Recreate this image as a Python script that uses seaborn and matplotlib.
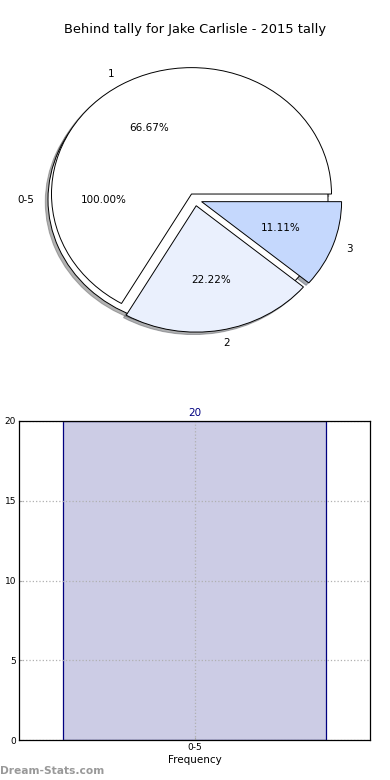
import numpy as np
import pandas as pd
import matplotlib
matplotlib.use("Agg")
import matplotlib.pyplot as plt
import seaborn as sns

# data
title = "Behind tally for Jake Carlisle - 2015 tally"
range_labels = ["0-5"]
range_counts = [20]
tally_labels = ["1", "2", "3"]
tally_counts = [6, 2, 1]
tally_colors = ["#ffffff", "#eaf0fd", "#c5d8fd"]

plt.rcParams['font.family'] = ['DejaVu Sans']

fig = plt.figure(figsize=(3.9, 7.8), dpi=100)

# ---- pie (top) ----
ax1 = fig.add_axes([20/390, 1 - 357.5/780, 350/390, 316/780])
wp = {'edgecolor': 'black', 'linewidth': 0.7}
shd = {'ox': -0.014, 'oy': -0.014, 'shade': 0.6}
ax1.pie(range_counts, labels=range_labels, autopct='%.2f%%', explode=[0.05],
        shadow=shd, startangle=0, colors=['white'], wedgeprops=wp,
        textprops={'fontsize': 7.5})
ax1.pie(tally_counts, labels=tally_labels, autopct='%.2f%%', explode=[0.05]*3,
        shadow=shd, startangle=0, colors=tally_colors, wedgeprops=wp,
        textprops={'fontsize': 7.5})
ax1.set_aspect('auto')
ax1.set_xlim(-1.25, 1.25)
ax1.set_ylim(-1.25, 1.25)
fig.text(0.5, 1 - 30/780, title, ha='center', va='center', fontsize=9.4)

# ---- bar (bottom) ----
ax2 = fig.add_axes([19/390, 1 - 740/780, 351/390, 319/780])
df = pd.DataFrame({'range': range_labels, 'count': range_counts})
sns.barplot(data=df, x='range', y='count', width=0.75, ax=ax2)
for p in ax2.patches:
    p.set_facecolor((0, 0, 0.5, 0.2))
    p.set_edgecolor('navy')
    p.set_linewidth(0.9)
ax2.set_xlim(-0.5, 0.5)
ax2.set_ylim(0, 20)
ax2.set_yticks([0, 5, 10, 15, 20])
ax2.grid(True, linestyle=':', color='#b0b0b0', linewidth=0.9)
ax2.set_axisbelow('line')
ax2.tick_params(labelsize=6.5, direction='in', length=2, color='#aaaaaa', pad=2)
for s in ax2.spines.values():
    s.set_linewidth(0.9)
    s.set_zorder(3)
for i, v in enumerate(range_counts):
    ax2.text(i, v + 0.2, str(v), ha='center', va='bottom', color='navy', fontsize=7.5)
ax2.set_xlabel('Frequency', fontsize=7.5, labelpad=2)
ax2.set_ylabel('Behind Tally', fontsize=7, fontweight='bold')
ax2.yaxis.set_label_coords(-0.055, 0.5)

fig.text(0.0, 1 - 771/780, 'Dream-Stats.com', ha='left', va='center',
         fontsize=7.7, fontweight='bold', color='#999999')

fig.savefig('out.png', dpi=100)
